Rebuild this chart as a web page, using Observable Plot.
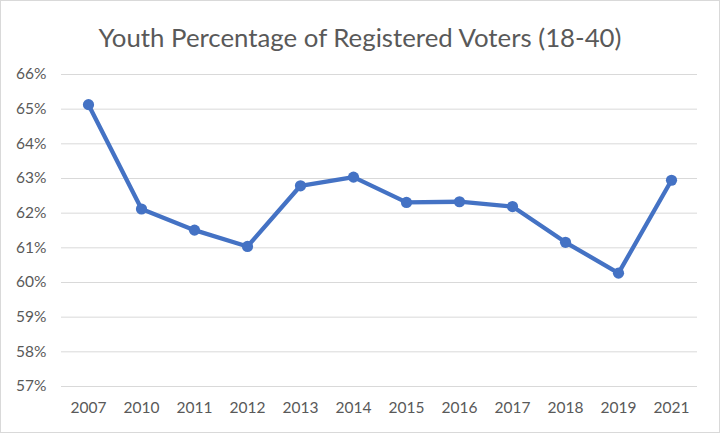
<!DOCTYPE html>
<html>
<head>
<meta charset="utf-8">
<script src="https://cdn.jsdelivr.net/npm/d3@7"></script>
<script src="https://cdn.jsdelivr.net/npm/@observablehq/plot@0.6"></script>
<style>
  html, body { margin: 0; padding: 0; background: #fff; }
  #chart { position: relative; width: 718px; height: 431px; border: 1px solid #d9d9d9; background: #fff; overflow: hidden; }
  #title { height: 59px; line-height: 72px; text-align: center; font-family: Lato, "Open Sans", sans-serif; font-size: 25.8px; color: #595959; white-space: nowrap; }
  svg { display: block; }
</style>
</head>
<body>
<div id="chart">
  <div id="title">Youth Percentage of Registered Voters (18-40)</div>
</div>
<script>
const years = ["2007", "2010", "2011", "2012", "2013", "2014", "2015", "2016", "2017", "2018", "2019", "2021"];
const shares = [0.6513, 0.6212, 0.6151, 0.6104, 0.6279, 0.6304, 0.6231, 0.6233, 0.6219, 0.6116, 0.6027, 0.6295];
const yTicks = [0.57, 0.58, 0.59, 0.60, 0.61, 0.62, 0.63, 0.64, 0.65, 0.66];

const data = years.map((y, i) => ({year: y, share: shares[i]}));
const blue = "#4472C4";

const plot = Plot.plot({
  width: 718,
  height: 372,
  marginTop: 14,
  marginBottom: 46,
  marginLeft: 60,
  marginRight: 22,
  style: { fontFamily: "Lato, 'Open Sans', sans-serif", fontSize: "15.5px", color: "#595959", background: "#fff" },
  x: { type: "point", domain: years, padding: 0.5, label: null, tickSize: 0, tickPadding: 15 },
  y: { domain: [0.57, 0.66], ticks: yTicks, tickFormat: d3.format(".0%"), label: null, tickSize: 0, tickPadding: 15 },
  marks: [
    Plot.gridY(yTicks, { stroke: "#d9d9d9", strokeOpacity: 1, strokeWidth: 1 }),
    Plot.line(data, { x: "year", y: "share", stroke: blue, strokeWidth: 4.3, strokeLinejoin: "round", strokeLinecap: "round" }),
    Plot.dot(data, { x: "year", y: "share", fill: blue, r: 5.6 })
  ]
});
document.getElementById("chart").appendChild(plot);
</script>
</body>
</html>
